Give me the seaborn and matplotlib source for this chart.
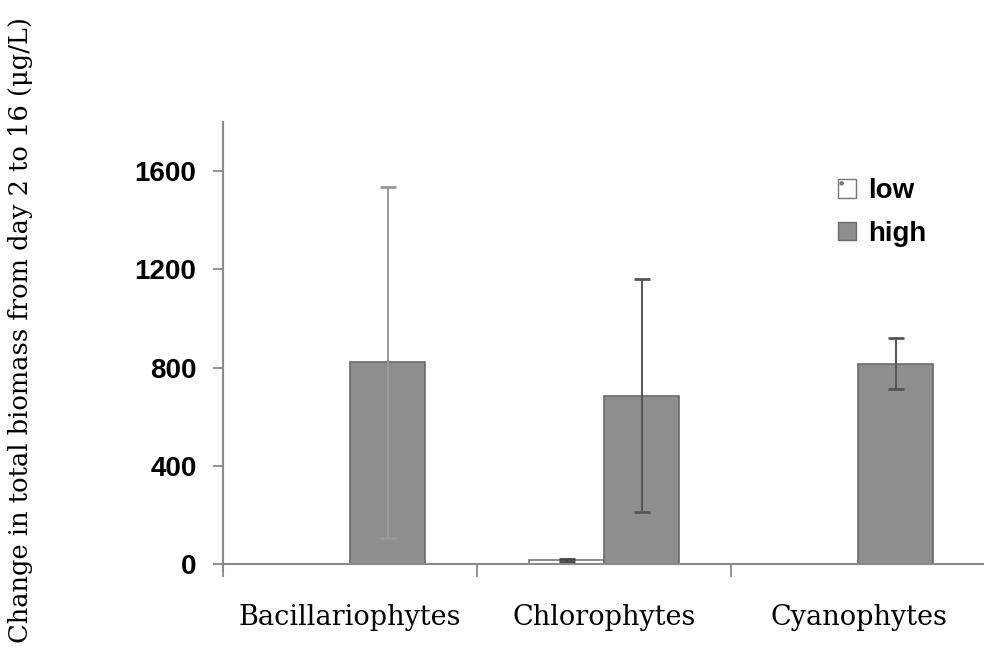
import numpy as np
import pandas as pd
import matplotlib.pyplot as plt
import seaborn as sns
from matplotlib.patches import Patch

sns.set_style("ticks")
plt.rcParams["hatch.linewidth"] = 0.8

groups = ["Bacillariophytes", "Chlorophytes", "Cyanophytes"]
low_mean = [0, 15, 0]
low_err = [0, 5, 0]
high_mean = [822, 686, 815]
high_err = [714, 475, 104]

df = pd.DataFrame({
    "group": groups * 2,
    "level": ["low"] * 3 + ["high"] * 3,
    "value": low_mean + high_mean,
})
errs = low_err + high_err

fig = plt.figure(figsize=(9.84, 6.65), dpi=100, facecolor="white")
ax = fig.add_axes([0.2266, 0.1414, 0.775, 0.6751])

sns.barplot(data=df, x="group", y="value", hue="level", order=groups,
            hue_order=["low", "high"], palette={"low": "white", "high": "#8e8e8e"},
            width=0.59, errorbar=None, edgecolor="#6a6a6a", linewidth=1.2,
            legend=False, ax=ax)

# dotted fill for low bars
for p in ax.patches[:3]:
    p.set_hatch(".")
    p.set_edgecolor("#777777")

# error bars at the bar centers
xs = [p.get_x() + p.get_width() / 2 for p in ax.patches[:6]]
ys = [p.get_height() for p in ax.patches[:6]]
ecols = ["#555555", "#444444", "#555555", "#9a9a9a", "#555555", "#555555"]
for x, y, e, c in zip(xs, ys, errs, ecols):
    if e > 0:
        ax.errorbar(x, y, yerr=e, fmt="none", ecolor=c, elinewidth=1.4,
                    capsize=6, capthick=2)

ax.set_xlim(-0.5, 2.5)
ax.set_ylim(-28, 1800)
ax.set_yticks([0, 400, 800, 1200, 1600])
ax.spines["bottom"].set_position(("data", 0))
for s in ["top", "right"]:
    ax.spines[s].set_visible(False)
for s in ["left", "bottom"]:
    ax.spines[s].set_color("#8a8a8a")
    ax.spines[s].set_linewidth(1.5)

ax.set_xticks([-0.5, 0.5, 1.5, 2.5], minor=True)
ax.tick_params(axis="x", which="minor", direction="out", length=9,
               width=1.3, color="#8a8a8a")
ax.tick_params(axis="x", which="major", length=0, pad=29, labelcolor="black")
ax.tick_params(axis="y", direction="out", length=7, width=1.3,
               color="#8a8a8a", pad=12, labelcolor="black")

for lab in ax.get_yticklabels():
    lab.set_fontfamily("Liberation Sans")
    lab.set_fontweight("bold")
    lab.set_fontsize(20)
for lab in ax.get_xticklabels():
    lab.set_fontfamily("DejaVu Serif")
    lab.set_fontsize(19.5)

ax.set_xlabel("")
ax.set_ylabel("")
fig.text(0.021, 0.503, "Change in total biomass from day 2 to 16 (\u03bcg/L)",
         rotation=90, va="center", ha="center", fontsize=18.5,
         family=["DejaVu Serif"], color="black")

handles = [Patch(facecolor="white", edgecolor="#777777", hatch="."),
           Patch(facecolor="#8e8e8e", edgecolor="#6a6a6a")]
leg = ax.legend(handles, ["low", "high"], loc="upper left",
                bbox_to_anchor=(0.792, 0.9), frameon=False, handlelength=0.65,
                handleheight=0.65, handletextpad=0.45, labelspacing=0.6,
                borderaxespad=0,
                prop={"family": "Liberation Sans", "weight": "bold", "size": 20})
for t in leg.get_texts():
    t.set_color("black")

fig.savefig("out.png", dpi=100, facecolor="white")
